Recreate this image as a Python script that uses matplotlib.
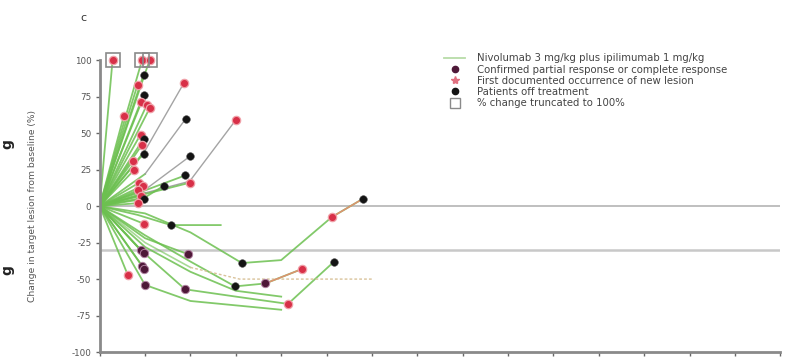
import matplotlib
matplotlib.use("Agg")
import matplotlib.pyplot as plt
from matplotlib.lines import Line2D

# Weeks since first dose and % change in target lesion size, one list per patient
weeks = [
    [0, 1.7], [0, 5.6], [0, 6.6],
    [0, 5.8], [0, 5.0], [0, 5.9], [0, 5.4], [0, 6.2], [0, 6.6], [0, 3.2],
    [0, 5.4], [0, 5.8], [0, 5.6], [0, 5.8], [0, 4.4], [0, 4.6],
    [0, 6.0, 11.1], [0, 6.0, 11.4], [0, 6.0, 11.9, 18.0], [0, 6.2, 11.9],
    [0, 5.8, 11.9], [0, 5.6, 11.3], [0, 6.0, 8.5],
    [0, 5.2], [0, 5.7], [0, 5.1], [0, 5.4], [0, 5.9], [0, 5.0],
    [0, 5.8], [0, 5.0, 9.4, 16.0], [0, 5.4], [0, 5.8], [0, 6.0, 11.7],
    [0, 5.6], [0, 5.9], [0, 3.7],
    [0, 6.0, 12.0, 18.0, 24.0],
    [0, 6.0, 12.0, 18.8, 24.0, 30.7, 34.8],
    [0, 6.0, 12.0, 17.9, 21.9, 26.8],
    [0, 5.4, 11.3, 18.0, 24.9, 31.0],
    [0, 6.0, 12.0, 18.5, 26.0, 36.0],
    [0, 6.0, 12.0, 18.0, 24.0],
]
change = [
    [0, 100], [0, 100], [0, 100],
    [0, 90], [0, 83], [0, 76], [0, 71], [0, 69], [0, 67], [0, 62],
    [0, 49], [0, 46], [0, 42], [0, 36], [0, 31], [0, 25],
    [0, 38, 84], [0, 22, 60], [0, 9, 17, 59], [0, 12, 34],
    [0, 8, 16], [0, 10, 21], [0, 6, 14],
    [0, 16], [0, 14], [0, 11], [0, 7], [0, 5], [0, 2],
    [0, -12], [0, -6, -13, -13], [0, -30], [0, -32], [0, -22, -33],
    [0, -41], [0, -43], [0, -47],
    [0, -54, -65, -68, -71],
    [0, -5, -18, -39, -37, -7.5, 5],
    [0, -20, -38, -55, -53, -43],
    [0, -30, -57, -62, -67, -38],
    [0, -25, -42, -50, -50, -50],
    [0, -28, -45, -58, -62],
]
# Events: (patient, visit, kind)  kind: 'resp', 'new', 'off', 'trunc'
events = [
    (0, 1, 'trunc'), (1, 1, 'trunc'), (2, 1, 'trunc'),
    (0, 1, 'new'), (1, 1, 'new'), (2, 1, 'new'),
    (3, 1, 'off'), (4, 1, 'new'), (5, 1, 'off'), (6, 1, 'new'), (7, 1, 'new'),
    (8, 1, 'new'), (9, 1, 'new'), (10, 1, 'new'), (11, 1, 'off'), (12, 1, 'new'),
    (13, 1, 'off'), (14, 1, 'new'), (15, 1, 'new'),
    (16, 2, 'new'), (17, 2, 'off'), (18, 3, 'new'), (19, 2, 'off'),
    (20, 2, 'new'), (21, 2, 'off'), (22, 2, 'off'),
    (23, 1, 'new'), (24, 1, 'new'), (25, 1, 'new'), (26, 1, 'new'),
    (27, 1, 'off'), (28, 1, 'new'),
    (29, 1, 'new'), (30, 2, 'off'), (31, 1, 'resp'), (32, 1, 'resp'),
    (33, 2, 'resp'), (34, 1, 'resp'), (35, 1, 'resp'), (36, 1, 'new'),
    (37, 1, 'resp'),
    (38, 3, 'off'), (38, 5, 'new'), (38, 6, 'off'),
    (39, 3, 'off'), (39, 4, 'resp'), (39, 5, 'new'),
    (40, 2, 'resp'), (40, 4, 'new'), (40, 5, 'off'),
]
gray_patients = [16, 17, 18, 19]
faint_patients = [41]

y_ticks = [100, 75, 50, 25, 0, -25, -50, -75, -100]
x_ticks = list(range(0, 91, 6))
legend_labels = [
    "Nivolumab 3 mg/kg plus ipilimumab 1 mg/kg",
    "Confirmed partial response or complete response",
    "First documented occurrence of new lesion",
    "Patients off treatment",
    "% change truncated to 100%",
]

green = "#6cc050"
c_resp = "#4e1838"
c_new = "#d83048"
c_off = "#141414"

fig = plt.figure(figsize=(7.85, 3.6), dpi=100)
ax = fig.add_axes([0.127, 0.022, 0.867, 0.811])

ax.axhline(0, color="#b4b4b4", lw=1.2, zorder=1)
ax.axhline(-30, color="#c8c8c8", lw=1.8, zorder=1)

for i, (xs, ys) in enumerate(zip(weeks, change)):
    if i in gray_patients:
        ax.plot(xs[:2], ys[:2], color=green, lw=1.3, alpha=0.85, zorder=2)
        ax.plot(xs[1:], ys[1:], color="#9a9a9a", lw=1.0, alpha=0.9, zorder=2)
    elif i in faint_patients:
        ax.plot(xs[:3], ys[:3], color=green, lw=1.2, alpha=0.6, zorder=2)
        ax.plot(xs[2:], ys[2:], color="#d9c29a", lw=1.0, ls=(0, (2, 1.5)), zorder=2)
    else:
        ax.plot(xs, ys, color=green, lw=1.3, alpha=0.85, zorder=2)
# segments after a new lesion on long follow-up
ax.plot(weeks[38][5:], change[38][5:], color="#e09070", lw=1.1, zorder=2)
ax.plot(weeks[39][4:], change[39][4:], color="#e09070", lw=1.1, zorder=2)

for p, v, kind in events:
    x, y = weeks[p][v], change[p][v]
    if kind == 'trunc':
        ax.plot(x, y, marker='s', ms=10, mfc="none", mec="#8a8a8a", mew=1.2,
                zorder=5, clip_on=False)
    elif kind == 'new':
        ax.plot(x, y, marker='o', ms=6, color=c_new, mec="#f0a0a8", mew=0.9,
                zorder=4, clip_on=False)
    elif kind == 'resp':
        ax.plot(x, y, marker='o', ms=6, color=c_resp, mec="#b080a0", mew=0.7,
                zorder=4)
    else:
        ax.plot(x, y, marker='o', ms=5.5, color=c_off, mec="#505050", mew=0.4,
                zorder=4)

ax.set_xlim(0, 90)
ax.set_ylim(-100, 100)
ax.set_yticks(y_ticks)
ax.set_yticklabels([str(t) for t in y_ticks], fontsize=6.3, color="#555555")
ax.set_xticks(x_ticks)
ax.set_xticklabels([])
ax.tick_params(axis='both', length=3, width=1, color="#666666", pad=3)
for s in ("top", "right"):
    ax.spines[s].set_visible(False)
for s in ("left", "bottom"):
    ax.spines[s].set_color("#8a8a8a")
    ax.spines[s].set_linewidth(2)
ax.set_ylabel("Change in target lesion from baseline (%)", fontsize=6.6,
              color="#555555")
ax.yaxis.set_label_coords(-0.092, 0.5)

handles = [
    Line2D([], [], color="#b8dca8", lw=1.3),
    Line2D([], [], ls="none", marker='o', ms=4.5, color=c_resp),
    Line2D([], [], ls="none", marker='*', ms=6, color="#e07080"),
    Line2D([], [], ls="none", marker='o', ms=4.5, color=c_off),
    Line2D([], [], ls="none", marker='s', ms=6.5, mfc="none", mec="#8a8a8a"),
]
fig.legend(handles, legend_labels, loc="upper left",
           bbox_to_anchor=(0.561, 0.863), frameon=False, fontsize=7.3,
           handlelength=2.0, handletextpad=1.2, labelspacing=0.12,
           labelcolor="#444444", borderaxespad=0)

fig.text(0.106, 0.95, "c", fontsize=8, color="#333333", ha="center", va="center")
fig.text(0.0, 0.60, "g", fontsize=10, fontweight="bold", rotation=90,
         ha="left", va="center", color="#222222")
fig.text(0.0, 0.25, "g", fontsize=10, fontweight="bold", rotation=90,
         ha="left", va="center", color="#222222")

fig.savefig("out.png", dpi=100)
